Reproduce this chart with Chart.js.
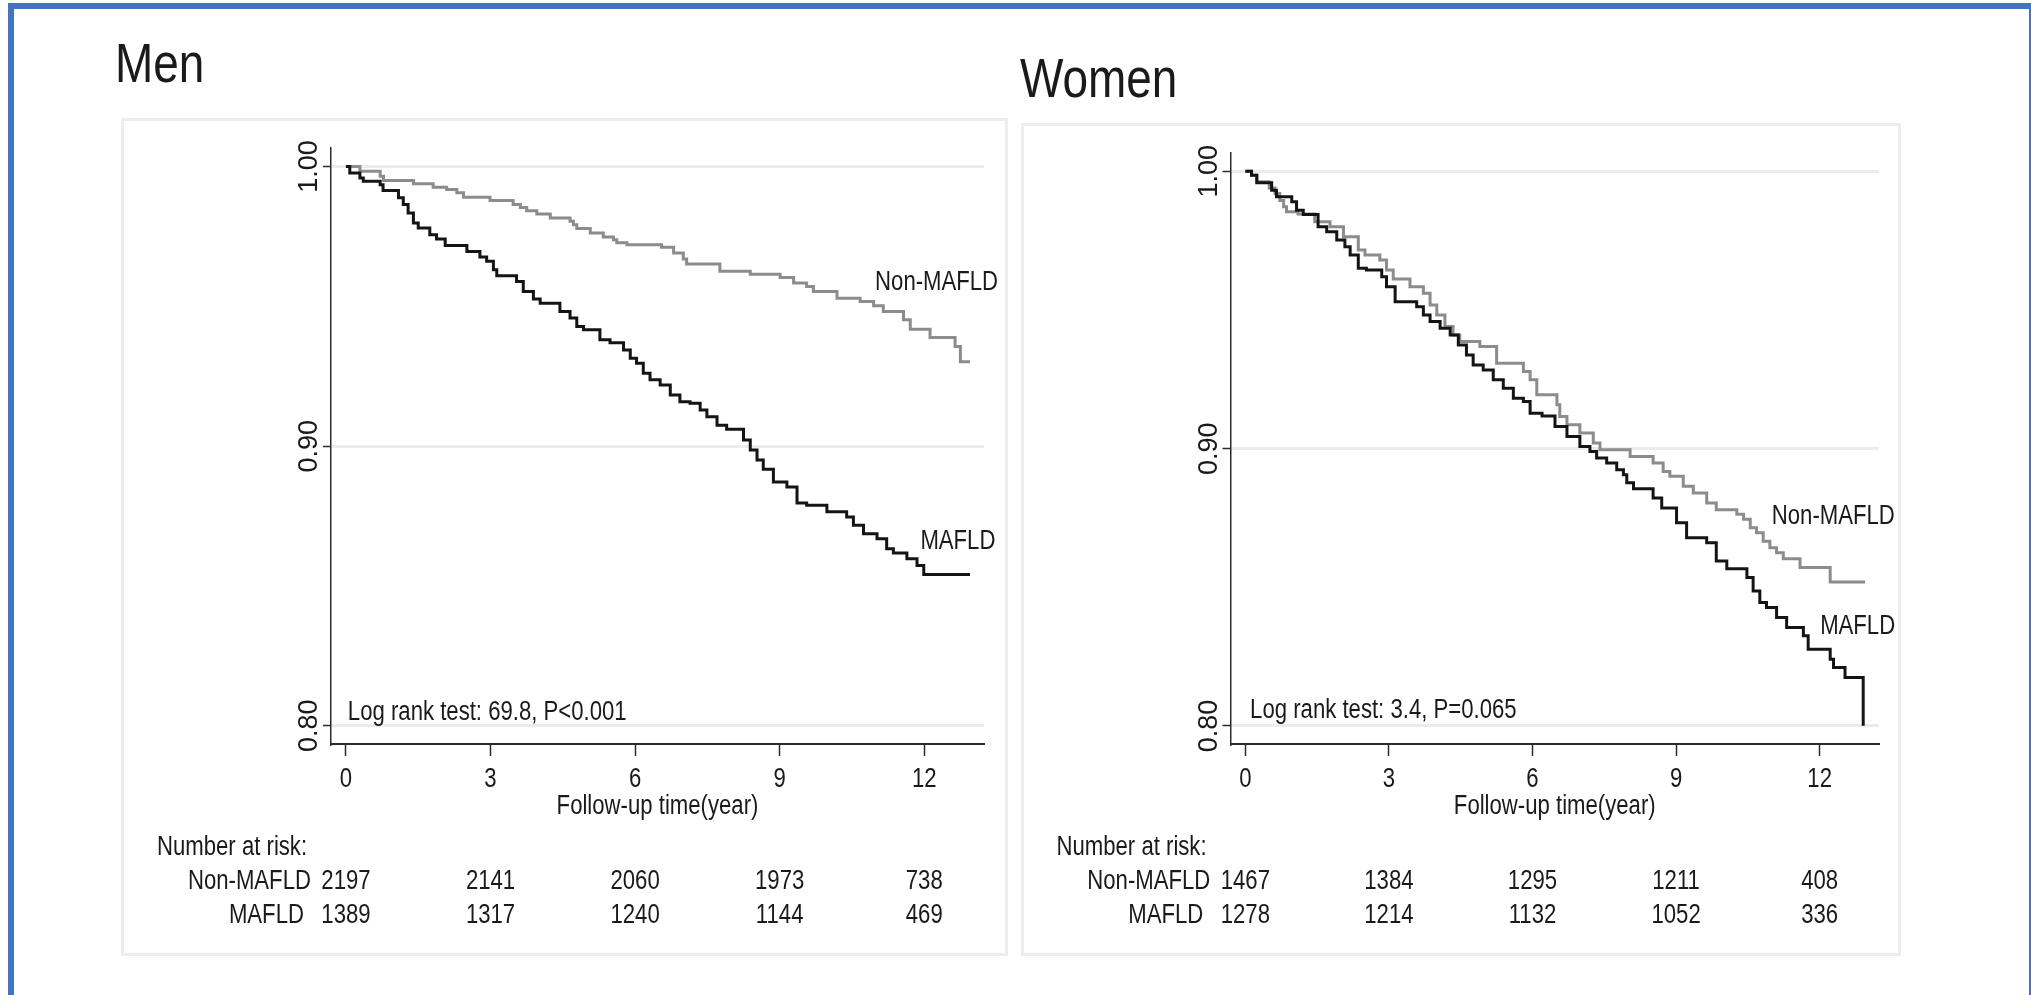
<!DOCTYPE html>
<html>
<head>
<meta charset="utf-8">
<script src="https://cdn.jsdelivr.net/npm/chart.js@4.4.1/dist/chart.umd.min.js"></script>
<style>
  html, body { margin: 0; padding: 0; background: #fff; }
  body { width: 2031px; height: 995px; position: relative; overflow: hidden; }
  .bar { position: absolute; background: #4472c4; }
  .title { position: absolute; font-family: "Liberation Sans Narrow", "Arial Narrow", sans-serif;
           font-size: 56px; line-height: 1; color: #1a1a1a; white-space: nowrap; transform-origin: 0 0; }
  .panel { position: absolute; box-sizing: border-box; border: 3px solid #ededed; }
  canvas { position: absolute; }
</style>
</head>
<body>
<div class="bar" style="left:8px;top:3px;width:2023px;height:6px"></div>
<div class="bar" style="left:8px;top:3px;width:6px;height:992px"></div>
<div class="bar" style="left:2029px;top:3px;width:2px;height:992px"></div>

<div class="title" id="tMen" style="left:115px;top:35px">Men</div>
<div class="title" id="tWomen" style="left:1020px;top:50px">Women</div>

<div class="panel" style="left:121px;top:118px;width:887px;height:838px"></div>
<div class="panel" style="left:1021px;top:123px;width:880px;height:833px"></div>
<canvas id="men" width="887" height="838" style="left:121px;top:118px"></canvas>
<canvas id="women" width="880" height="833" style="left:1021px;top:123px"></canvas>

<script>
// axis ticks
const years = [0, 3, 6, 9, 12];
const yTicks = [0.80, 0.90, 1.00];

// Men, Kaplan-Meier steps (time in years, survival)
const menNonT = [0, 0.29, 0.71, 0.78, 1.40, 1.81, 2.09, 2.30, 2.44, 2.99, 3.47, 3.62, 3.75, 3.96, 4.24,
  4.65, 4.72, 4.79, 5.07, 5.34, 5.55, 5.62, 5.83, 6.55, 6.80, 7.00, 7.07, 7.76, 8.39, 9.01, 9.29, 9.56,
  9.70, 10.19, 10.67, 10.95, 11.15, 11.57, 11.71, 12.12, 12.64, 12.75, 12.95];
const menNonS = [1.000, .9983, .9965, .9950, .9938, .9926, .9918, .9906, .9890, .9878, .9864, .9853, .9842,
  .9830, .9816, .9804, .9792, .9778, .9762, .9748, .9738, .9727, .9720, .9711, .9691, .9669, .9651, .9625,
  .9615, .9603, .9583, .9571, .9553, .9529, .9517, .9502, .9481, .9452, .9418, .9388, .9356, .9302, .9302];

const menMafldT = [0, 0.08, 0.29, 0.36, 0.71, 0.77, 1.09, 1.19, 1.29, 1.40, 1.50, 1.74, 1.88, 2.06, 2.51,
  2.78, 2.92, 3.06, 3.13, 3.54, 3.68, 3.89, 4.03, 4.44, 4.65, 4.79, 4.93, 5.27, 5.48, 5.76, 5.90, 6.03,
  6.17, 6.31, 6.52, 6.73, 6.93, 7.14, 7.35, 7.49, 7.70, 7.90, 8.25, 8.39, 8.53, 8.66, 8.87, 9.15, 9.36,
  9.56, 9.98, 10.39, 10.53, 10.74, 11.02, 11.22, 11.36, 11.64, 11.85, 11.99, 12.95];
const menMafldS = [1.000, .9977, .9959, .9947, .9935, .9914, .9888, .9864, .9834, .9798, .9780, .9756,
  .9741, .9717, .9696, .9676, .9661, .9631, .9609, .9589, .9553, .9526, .9511, .9481, .9458, .9428, .9416,
  .9380, .9370, .9344, .9314, .9296, .9261, .9237, .9219, .9183, .9159, .9153, .9129, .9105, .9075, .9060,
  .9022, .8986, .8950, .8917, .8872, .8854, .8797, .8789, .8765, .8747, .8717, .8687, .8669, .8633, .8618,
  .8597, .8573, .8541, .8541];

// Women
const womenNonT = [0, 0.13, 0.24, 0.50, 0.62, 0.72, 0.80, 0.86, 1.10, 1.45, 1.77, 2.05, 2.36, 2.50, 2.81,
  2.95, 3.09, 3.44, 3.72, 3.86, 4.00, 4.17, 4.34, 4.48, 4.90, 5.25, 5.81, 5.95, 6.09, 6.51, 6.57, 6.72,
  6.99, 7.27, 7.41, 8.04, 8.52, 8.73, 8.87, 9.15, 9.36, 9.64, 9.84, 10.27, 10.41, 10.55, 10.68, 10.82,
  10.96, 11.10, 11.24, 11.59, 12.22, 12.95];
const womenNonS = [1.000, .9986, .9962, .9940, .9920, .9895, .9872, .9854, .9846, .9818, .9800, .9764,
  .9716, .9698, .9680, .9644, .9612, .9584, .9560, .9518, .9482, .9440, .9410, .9386, .9368, .9308, .9278,
  .9248, .9194, .9158, .9116, .9086, .9056, .9020, .8996, .8972, .8948, .8918, .8900, .8864, .8840, .8804,
  .8780, .8763, .8745, .8715, .8697, .8666, .8643, .8625, .8603, .8571, .8519, .8519];

const womenMafldT = [0, 0.13, 0.24, 0.55, 0.65, 0.97, 1.07, 1.21, 1.52, 1.70, 1.91, 2.08, 2.19, 2.36, 2.53,
  2.85, 2.95, 3.13, 3.58, 3.72, 3.86, 4.07, 4.28, 4.45, 4.62, 4.76, 4.97, 5.18, 5.39, 5.60, 5.81, 5.95,
  6.20, 6.47, 6.72, 6.99, 7.20, 7.34, 7.55, 7.76, 7.90, 7.97, 8.11, 8.52, 8.70, 9.01, 9.22, 9.64, 9.84,
  10.06, 10.48, 10.61, 10.75, 10.89, 11.10, 11.31, 11.66, 11.76, 12.22, 12.29, 12.53, 12.91];
const womenMafldS = [1.000, .9986, .9959, .9932, .9908, .9890, .9860, .9844, .9800, .9782, .9752, .9728,
  .9698, .9650, .9644, .9620, .9584, .9530, .9512, .9482, .9458, .9434, .9410, .9374, .9338, .9302, .9284,
  .9248, .9218, .9182, .9170, .9128, .9118, .9080, .9044, .9008, .8990, .8966, .8948, .8924, .8906, .8877,
  .8855, .8822, .8786, .8733, .8679, .8661, .8595, .8567, .8535, .8487, .8445, .8427, .8391, .8355, .8325,
  .8277, .8241, .8211, .8175, .8001];

// number at risk
const menRiskNon = [2197, 2141, 2060, 1973, 738];
const menRiskMafld = [1389, 1317, 1240, 1144, 469];
const womenRiskNon = [1467, 1384, 1295, 1211, 408];
const womenRiskMafld = [1278, 1214, 1132, 1052, 336];

const INK = '#1a1a1a';

// use the narrow face if it is there, otherwise squeeze the regular one
function hasFont(name) {
  const c = document.createElement('canvas').getContext('2d');
  c.font = '40px monospace';
  const a = c.measureText('Non-MAFLD 0123').width;
  c.font = '40px ' + name + ', monospace';
  return c.measureText('Non-MAFLD 0123').width !== a;
}
const narrowOK = hasFont('"Liberation Sans Narrow"');
const TEXT_FONT = narrowOK ? '"Liberation Sans Narrow", sans-serif' : '"Liberation Sans", Arial, sans-serif';
const SQUEEZE = narrowOK ? 1 : 0.82;
if (!narrowOK) {
  document.querySelectorAll('.title').forEach(el => {
    el.style.fontFamily = TEXT_FONT;
    el.style.transform = 'scaleX(' + SQUEEZE + ')';
  });
}

function drawText(ctx, s, x, y, align, size) {
  ctx.save();
  ctx.font = size + 'px ' + TEXT_FONT;
  ctx.textAlign = align;
  ctx.textBaseline = 'alphabetic';
  ctx.translate(x, y);
  ctx.scale(SQUEEZE, 1);
  ctx.fillText(s, 0, 0);
  ctx.restore();
}

function toXY(ts, ss) {
  return ts.map((t, i) => ({ x: t, y: ss[i] }));
}

function textPlugin(p) {
  return {
    id: 'kmText',
    afterDraw(chart) {
      const ctx = chart.ctx;
      const xs = chart.scales.x, ys = chart.scales.y;
      const area = chart.chartArea;
      const L = area.left, B = area.bottom;
      ctx.fillStyle = INK;

      // rotated y tick labels
      yTicks.forEach(v => {
        ctx.save();
        ctx.translate(L - 14, ys.getPixelForValue(v));
        ctx.rotate(-Math.PI / 2);
        ctx.font = '27px "Liberation Sans", Arial, sans-serif';
        ctx.textAlign = 'center';
        ctx.textBaseline = 'alphabetic';
        ctx.fillText(v.toFixed(2), 0, 0);
        ctx.restore();
      });

      years.forEach(t => drawText(ctx, String(t), xs.getPixelForValue(t), B + 43, 'center', 27));
      drawText(ctx, 'Follow-up time(year)', (L + area.right) / 2, B + 70, 'center', 27);

      // curve labels and test
      drawText(ctx, 'Non-MAFLD', xs.getPixelForValue(p.nonLabel[0]), ys.getPixelForValue(p.nonLabel[1]), 'left', 27);
      drawText(ctx, 'MAFLD', xs.getPixelForValue(p.mafldLabel[0]), ys.getPixelForValue(p.mafldLabel[1]), 'left', 27);
      drawText(ctx, p.logRank, xs.getPixelForValue(p.logRankAt[0]), ys.getPixelForValue(p.logRankAt[1]), 'left', 27);

      // risk table
      const x0 = xs.getPixelForValue(0);
      drawText(ctx, 'Number at risk:', L - 174, B + 111, 'left', 27);
      drawText(ctx, 'Non-MAFLD', x0 - 35, B + 145, 'right', 27);
      drawText(ctx, 'MAFLD', x0 - 42, B + 179, 'right', 27);
      years.forEach((t, i) => {
        const x = xs.getPixelForValue(t);
        drawText(ctx, String(p.riskNon[i]), x, B + 145, 'center', 27);
        drawText(ctx, String(p.riskMafld[i]), x, B + 179, 'center', 27);
      });
    }
  };
}

function kmChart(id, p) {
  const ctx = document.getElementById(id).getContext('2d');
  return new Chart(ctx, {
    type: 'line',
    data: {
      datasets: [
        { label: 'MAFLD', data: toXY(p.mafldT, p.mafldS), borderColor: '#141414', borderWidth: 3,
          stepped: true, pointRadius: 0, fill: false },
        { label: 'Non-MAFLD', data: toXY(p.nonT, p.nonS), borderColor: '#8c8c8c', borderWidth: 3,
          stepped: true, pointRadius: 0, fill: false }
      ]
    },
    options: {
      responsive: false,
      animation: false,
      layout: { padding: p.padding },
      plugins: { legend: { display: false }, tooltip: { enabled: false } },
      scales: {
        x: {
          type: 'linear', min: -0.31, max: 13.24,
          afterBuildTicks: s => { s.ticks = years.map(v => ({ value: v })); },
          ticks: { display: false },
          grid: { drawOnChartArea: false, drawTicks: true, tickLength: 12, tickColor: '#2b2b2b', tickWidth: 1.5 },
          border: { color: '#2b2b2b', width: 2 }
        },
        y: {
          type: 'linear', min: 0.7935, max: 1.0066,
          afterBuildTicks: s => { s.ticks = yTicks.map(v => ({ value: v })); },
          ticks: { display: false },
          grid: { color: '#ececec', lineWidth: 3, tickLength: 8, tickColor: '#2b2b2b', tickWidth: 1.5 },
          border: { color: '#2b2b2b', width: 1.5 }
        }
      }
    },
    plugins: [textPlugin(p)]
  });
}

kmChart('men', {
  nonT: menNonT, nonS: menNonS, mafldT: menMafldT, mafldS: menMafldS,
  riskNon: menRiskNon, riskMafld: menRiskMafld,
  nonLabel: [10.98, 0.9559], mafldLabel: [11.92, 0.8634],
  logRank: 'Log rank test: 69.8, P<0.001', logRankAt: [0.04, 0.80215],
  padding: { left: 202, right: 24, top: 30, bottom: 200 }
});

kmChart('women', {
  nonT: womenNonT, nonS: womenNonS, mafldT: womenMafldT, mafldS: womenMafldS,
  riskNon: womenRiskNon, riskMafld: womenRiskMafld,
  nonLabel: [11.0, 0.8727], mafldLabel: [12.01, 0.8331],
  logRank: 'Log rank test: 3.4, P=0.065', logRankAt: [0.10, 0.80288],
  padding: { left: 201.5, right: 22, top: 30, bottom: 200 }
});
</script>
</body>
</html>
